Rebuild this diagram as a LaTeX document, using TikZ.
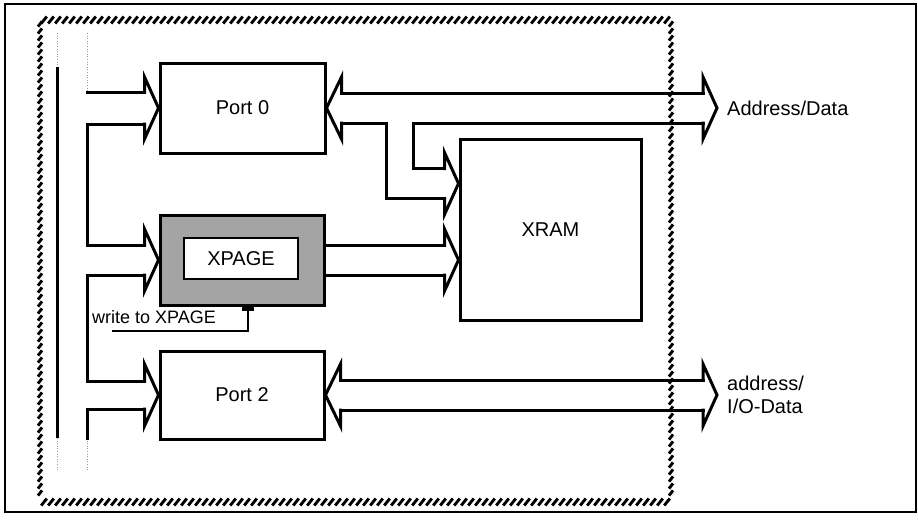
\documentclass[tikz,border=0pt]{standalone}
\usepackage{fontspec}
\setmainfont{Liberation Sans}
\usetikzlibrary{calc, positioning}
\definecolor{xpgshade}{HTML}{A4A4A4}
\definecolor{dotgrey}{HTML}{9A9A9A}
\tikzset{
  blk/.style={draw, line width=3pt, font=\fontsize{20}{24}\selectfont},
  bus/.style={line width=3pt, line cap=rect, line join=miter},
  hatch/.style={line width=2.9pt},
  faint/.style={dotgrey, line width=1pt, dash pattern=on 1pt off 1.6pt},
  lbl/.style={font=\fontsize{20}{23}\selectfont, align=left, inner sep=0pt}
}
% hollow bus heads: #1 tip, #2 half width of the shaft
\newcommand{\headR}[2]{%
  \draw[bus] ($(#1)+(-14,-#2)$) -- ++(0,{#2-31}) -- (#1) -- ($(#1)+(-14,31)$) -- ++(0,{#2-31});}
\newcommand{\headL}[2]{%
  \draw[bus] ($(#1)+(15,-#2)$) -- ++(0,{#2-31}) -- (#1) -- ($(#1)+(15,31)$) -- ++(0,{#2-31});}

\begin{document}
\begin{tikzpicture}[x=1pt, y=-1pt]
  \useasboundingbox (0,0) rectangle (918,523);
  \draw[line width=1.4pt] (5,4) rectangle (916,512);
  % hatched chip border
  \foreach \x in {44,51,...,668} {
    \draw[hatch] (\x-2.8,23.5) -- (\x+2.8,16.5);
    \draw[hatch] (\x-2.8,505.5) -- (\x+2.8,498.5);
  }
  \foreach \y in {24,31,...,498} {
    \draw[hatch] (38,\y+2.6) -- (42,\y-2.6);
    \draw[hatch] (669,\y+2.6) -- (673,\y-2.6);
  }

  \node[blk, minimum width=165pt, minimum height=90pt] (p0) at (242.5,108) {Port 0};
  \node[blk, fill=xpgshade, minimum width=164pt, minimum height=90pt] (xpg) at (242,260) {};
  \node[draw, line width=1.8pt, fill=white, minimum width=114pt, minimum height=41pt,
    font=\fontsize{20}{24}\selectfont] (xpglbl) at (241,258.5) {XPAGE};
  \node[blk, minimum width=164pt, minimum height=88pt] (p2) at (242,395) {Port 2};
  \node[blk, minimum width=181pt, minimum height=181pt] (xram) at (550.5,229.5) {XRAM};

  \coordinate (adtip) at (717,108);
  \coordinate (iotip) at (adtip |- p2.east);
  \coordinate (xrtop) at ($(xram.north west)!0.25!(xram.south west)$);
  \coordinate (xrmid) at (xram.west |- xpg.east);
  \node[lbl, right=10pt of adtip] (addata) {Address/Data};
  \node[lbl, right=10pt of iotip] (iodata) {address/\\I/O-Data};
  \node[lbl, font=\fontsize{18}{20}\selectfont, anchor=west] (wr) at (92,317) {write to XPAGE};

  % internal bus on the left
  \draw[faint] (57,33) -- (57,67);
  \draw[faint] (57,438) -- (57,470);
  \draw[line width=3pt] (57,67) -- (57,438);
  \draw[faint] (87,33) -- (87,93);
  \draw[faint] (87,438) -- (87,470);
  \draw[bus] (87,92) -- ($(p0.west)+(-14,-16)$);
  \headR{p0.west}{16}
  \draw[bus] ($(p0.west)+(-14,16)$) -| (87,245) -- ($(xpg.west)+(-14,-15)$);
  \headR{xpg.west}{15}
  \draw[bus] ($(xpg.west)+(-14,15)$) -| (87,381) -- ($(p2.west)+(-14,-14)$);
  \headR{p2.west}{14}
  \draw[bus] ($(p2.west)+(-14,14)$) -| (87,438);

  % Port 0 <-> Address/Data, branch into XRAM
  \headL{p0.east}{15}
  \draw[bus] ($(p0.east)+(15,-15)$) -- ($(adtip)+(-14,-15)$);
  \headR{adtip}{15}
  \draw[bus] ($(p0.east)+(15,15)$) -| ($(xrtop)+(-72,15)$) -- ($(xrtop)+(-14,15)$);
  \draw[bus] ($(adtip)+(-14,15)$) -| ($(xrtop)+(-45,-15)$) -- ($(xrtop)+(-14,-15)$);
  \headR{xrtop}{15}

  % XPAGE -> XRAM
  \draw[bus] ($(xpg.east)+(0,-15)$) -- ($(xrmid)+(-14,-15)$);
  \draw[bus] ($(xpg.east)+(0,15)$) -- ($(xrmid)+(-14,15)$);
  \headR{xrmid}{15}

  % Port 2 <-> address/I/O-Data
  \headL{p2.east}{15}
  \draw[bus] ($(p2.east)+(15,-15)$) -- ($(iotip)+(-14,-15)$);
  \draw[bus] ($(p2.east)+(15,15)$) -- ($(iotip)+(-14,15)$);
  \headR{iotip}{15}

  % write strobe
  \draw[line width=2.2pt] ($(wr.south west)+(20,7)$) -| ($(xpg.south)+(6,0)$);
  \fill ($(xpg.south)+(0,-2)$) rectangle ++(12,6);
\end{tikzpicture}
\end{document}
